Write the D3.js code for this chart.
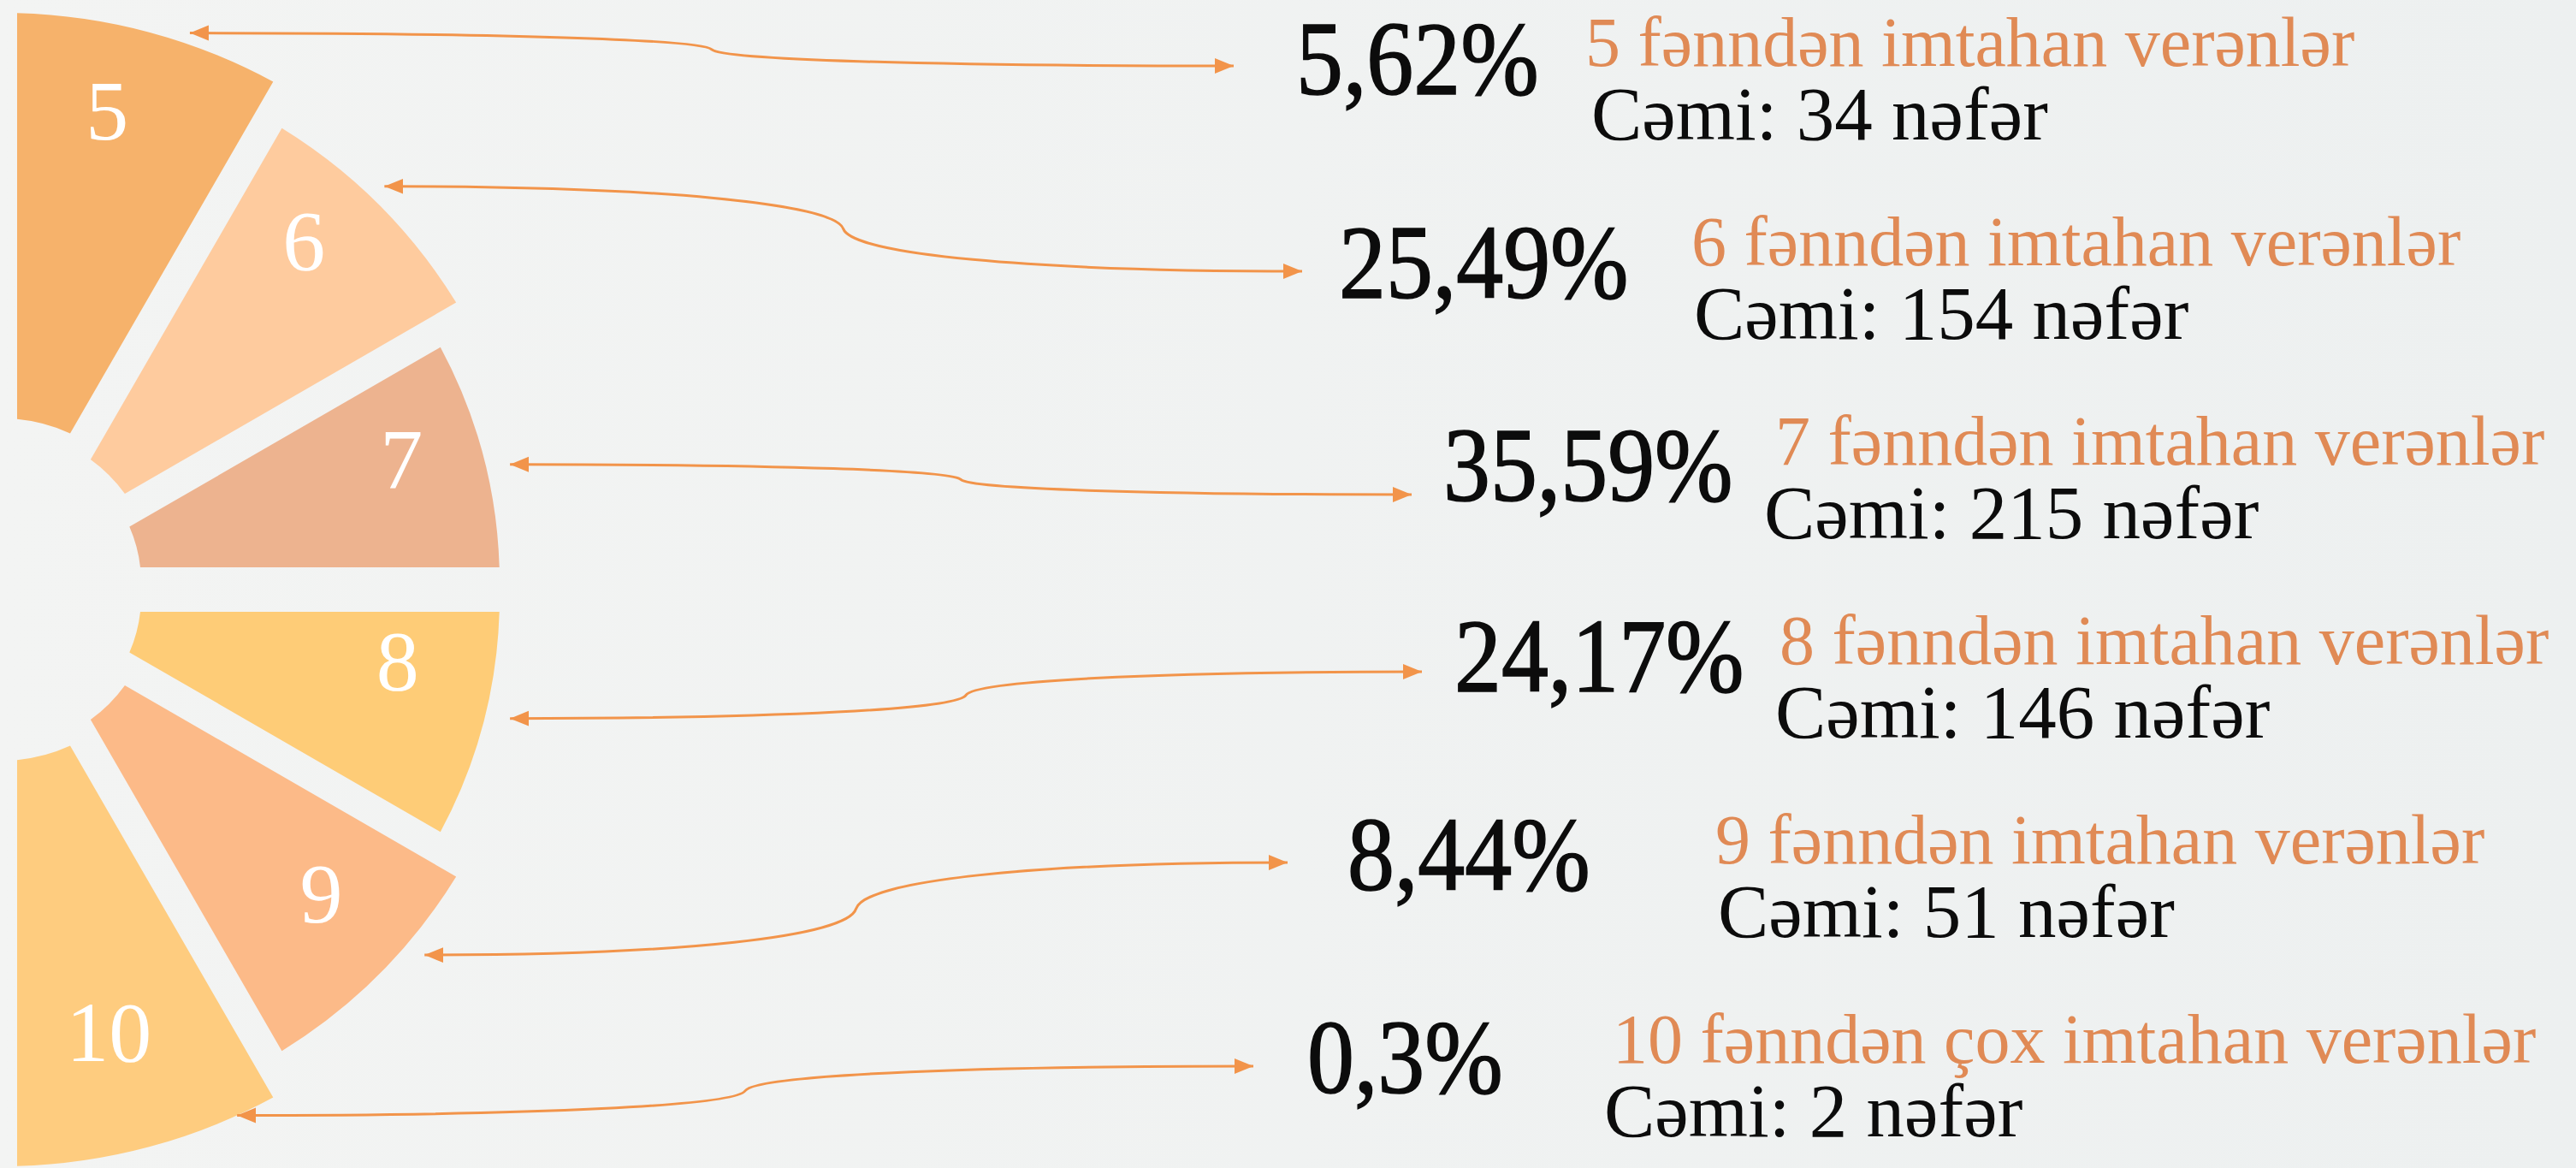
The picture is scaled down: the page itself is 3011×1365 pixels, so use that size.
<!DOCTYPE html>
<html>
<head>
<meta charset="utf-8">
<script src="https://cdn.jsdelivr.net/npm/d3@7"></script>
<style>
html, body { margin: 0; padding: 0; background: #f2f3f2; }
svg { display: block; }
text { font-family: "Liberation Serif", "DejaVu Serif", serif; }
</style>
</head>
<body>
<svg id="chart"></svg>
<script>
// data
const subjects = ['5', '6', '7', '8', '9', '10'];
const percents = [5.62, 25.49, 35.59, 24.17, 8.44, 0.3];
const counts = [34, 154, 215, 146, 51, 2];
const captions = [
	'5 fənndən imtahan verənlər',
	'6 fənndən imtahan verənlər',
	'7 fənndən imtahan verənlər',
	'8 fənndən imtahan verənlər',
	'9 fənndən imtahan verənlər',
	'10 fənndən çox imtahan verənlər'
];

// layout
const width = 3011, height = 1365;
const cx = 2, cy = 689, split = 8;
const colors = ['#f6b26b', '#fecb9e', '#edb38f', '#fecc77', '#fcba88', '#fecc7f'];
const lineColor = '#f2944a';
const captionColor = '#e08a55';

const pctX = [1515, 1565, 1687, 1700, 1575, 1528];
const pctY = [110, 348, 585, 808, 1040, 1277];
const capX = [1853, 1977, 2075, 2080, 2005, 1885];
const capY = [77, 310, 543, 776, 1009, 1242];
const sumX = [1860, 1980, 2062, 2075, 2008, 1875];
const arrowX = [1442, 1522, 1650, 1662, 1505, 1465];
const arrowY = [77, 317, 578, 785, 1008, 1246];
const tipAngle = [18.9, 44, 76.9, 103.5, 130.3, 155.6];
const tipR = [679, 644, 610, 611, 648, 666];
const labelAngle = [12.6, 41.5, 72.8, 99.3, 132.9, 166.2];
const labelR = [565, 533, 489, 469, 510, 525];

const fmt = d3.formatLocale({decimal: ',', thousands: ' ', grouping: [3], currency: ['', '']}).format('.2~f');

const svg = d3.select('#chart').attr('width', width).attr('height', height);

const defs = svg.append('defs');
const grad = defs.append('linearGradient').attr('id', 'bg').attr('x1', 0).attr('x2', 1).attr('y1', 0).attr('y2', 0);
grad.append('stop').attr('offset', 0).attr('stop-color', '#f3f4f3');
grad.append('stop').attr('offset', 1).attr('stop-color', '#edf0f0');
defs.append('marker')
	.attr('id', 'arr')
	.attr('viewBox', '0 -10 24 20')
	.attr('markerUnits', 'userSpaceOnUse')
	.attr('markerWidth', 24)
	.attr('markerHeight', 20)
	.attr('refX', 22)
	.attr('refY', 0)
	.attr('orient', 'auto-start-reverse')
	.append('path')
	.attr('d', 'M0,-9L22,0L0,9Z')
	.attr('fill', lineColor);

svg.append('rect').attr('width', width).attr('height', height).attr('fill', 'url(#bg)');

// wedges: equal slices of a right half ring
const pie = d3.pie().value(1).sort(null).startAngle(0).endAngle(Math.PI);
const rOuter = d3.scaleLinear().domain([0.5, 2.5]).range([582, 666]);
const rInner = d3.scaleLinear().domain([0.5, 2.5]).range([163, 192]);
const dist = i => Math.abs(i - 2.5);
const arc = d3.arc()
	.innerRadius(d => rInner(dist(d.index)))
	.outerRadius(d => rOuter(dist(d.index)))
	.padAngle(0.036)
	.padRadius(1000);

const slices = pie(subjects);
const centerY = i => cy + (i < 3 ? -split : split);
const polar = (i, deg, r) => {
	const a = deg * Math.PI / 180;
	return [cx + r * Math.sin(a), centerY(i) - r * Math.cos(a)];
};

svg.append('g').selectAll('path')
	.data(slices)
	.enter().append('path')
	.attr('transform', d => `translate(${cx},${centerY(d.index)})`)
	.attr('d', arc)
	.attr('fill', (d, i) => colors[i]);

svg.append('g').selectAll('text')
	.data(slices)
	.enter().append('text')
	.attr('x', d => polar(d.index, labelAngle[d.index], labelR[d.index])[0])
	.attr('y', d => polar(d.index, labelAngle[d.index], labelR[d.index])[1])
	.attr('text-anchor', 'middle')
	.attr('dominant-baseline', 'central')
	.attr('font-size', 100)
	.attr('fill', '#ffffff')
	.text(d => d.data);

// connectors, brace shaped with arrows at both ends
function brace(x0, y0, x1, y1) {
	const h = (x1 - x0) / 2, xm = x0 + h, ym = (y0 + y1) / 2;
	const a = 0.4;
	const p = d3.path();
	p.moveTo(x0, y0);
	p.bezierCurveTo(x0 + 0.6 * h, y0, xm - 0.02 * h, y0 + a * (ym - y0), xm, ym);
	p.bezierCurveTo(xm + 0.02 * h, y1 - a * (y1 - ym), x1 - 0.6 * h, y1, x1, y1);
	return p.toString();
}

svg.append('g').selectAll('path')
	.data(subjects)
	.enter().append('path')
	.attr('d', (d, i) => {
		const t = polar(i, tipAngle[i], tipR[i]);
		return brace(t[0], t[1], arrowX[i], arrowY[i]);
	})
	.attr('fill', 'none')
	.attr('stroke', lineColor)
	.attr('stroke-width', 3)
	.attr('marker-start', 'url(#arr)')
	.attr('marker-end', 'url(#arr)');

// texts
const rows = svg.append('g').selectAll('g')
	.data(subjects)
	.enter().append('g');

rows.append('text')
	.attr('transform', (d, i) => `translate(${pctX[i]},${pctY[i]}) scale(0.9,1)`)
	.attr('font-size', 122)
	.attr('fill', '#0c0c0c')
	.attr('stroke', '#0c0c0c')
	.attr('stroke-width', 1.6)
	.text((d, i) => fmt(percents[i]) + '%');

rows.append('text')
	.attr('x', (d, i) => capX[i])
	.attr('y', (d, i) => capY[i])
	.attr('font-size', 82)
	.attr('fill', captionColor)
	.text((d, i) => captions[i]);

rows.append('text')
	.attr('x', (d, i) => sumX[i])
	.attr('y', (d, i) => capY[i] + 86)
	.attr('font-size', 89)
	.attr('fill', '#0c0c0c')
	.text((d, i) => 'Cəmi: ' + counts[i] + ' nəfər');
</script>
</body>
</html>
